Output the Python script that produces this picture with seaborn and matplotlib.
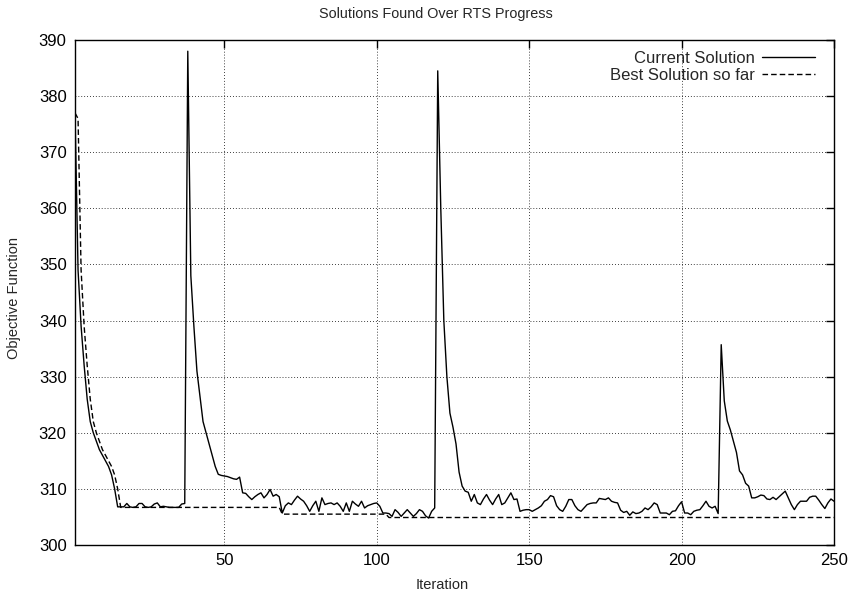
import numpy as np
import pandas as pd
import seaborn as sns
import matplotlib
matplotlib.use('Agg')
import matplotlib.pyplot as plt

# ------------------- Data -------------------
current_solution = [
    377.0, 349.0, 339.0, 332.0, 326.0, 322.0, 320.0, 318.5, 317.0, 316.0,
    315.0, 314.0, 312.5, 310.0, 306.8, 306.8, 306.8, 307.4, 306.8, 306.7,
    306.8, 307.4, 307.4, 306.8, 306.7, 306.8, 307.3, 307.5, 306.8, 306.9,
    306.8, 306.7, 306.7, 306.7, 306.7, 307.3, 307.4, 388.0, 348.0, 339.0,
    331.0, 326.5, 322.0, 320.0, 318.0, 316.0, 314.0, 312.6, 312.4, 312.3,
    312.2, 312.0, 311.8, 311.7, 312.1, 309.3, 309.2, 308.6, 308.1, 308.6,
    309.0, 309.3, 308.4, 309.0, 309.9, 308.7, 309.0, 308.6, 305.7, 307.0,
    307.5, 307.2, 308.0, 308.7, 308.2, 307.8, 307.0, 306.0, 307.0, 307.8,
    306.0, 308.4, 307.2, 307.4, 307.5, 307.2, 307.5, 306.9, 306.0, 307.5,
    306.0, 307.8, 307.3, 306.9, 307.8, 306.6, 307.0, 307.2, 307.4, 307.5,
    306.9, 305.7, 305.7, 305.6, 305.1, 306.3, 305.8, 305.1, 305.7, 306.3,
    305.7, 305.1, 305.6, 306.3, 306.0, 305.2, 304.8, 306.0, 306.6, 384.5,
    360.0, 340.0, 330.0, 323.5, 321.0, 318.0, 313.0, 310.5, 309.6, 309.4,
    307.8, 309.0, 307.5, 307.2, 308.2, 309.0, 308.0, 307.2, 308.2, 309.0,
    307.2, 307.5, 308.4, 309.3, 308.1, 308.2, 306.0, 306.2, 306.3, 306.3,
    306.0, 306.3, 306.6, 307.0, 307.8, 308.1, 308.8, 308.6, 307.0, 306.3,
    306.0, 306.9, 308.1, 308.1, 307.0, 306.3, 306.0, 306.6, 307.2, 307.4,
    307.5, 307.5, 308.3, 308.2, 308.1, 308.4, 307.8, 307.6, 307.5, 306.2,
    305.8, 306.0, 305.3, 305.9, 305.6, 305.7, 306.0, 306.6, 306.3, 306.8,
    307.5, 307.2, 305.7, 305.7, 305.7, 305.4, 306.0, 306.1, 307.0, 307.7,
    305.7, 305.7, 305.4, 306.0, 306.2, 306.3, 307.0, 307.8, 306.9, 306.6,
    306.9, 305.6, 335.7, 325.7, 322.1, 320.5, 318.5, 316.5, 313.2, 312.5,
    311.0, 310.5, 308.4, 308.4, 308.6, 308.9, 308.8, 308.2, 308.1, 308.5,
    308.1, 308.6, 309.1, 309.6, 308.4, 307.2, 306.3, 307.2, 307.8, 307.8,
    307.8, 308.5, 308.7, 308.7, 308.0, 307.2, 306.5, 307.5, 308.2, 307.8,
]
iterations = list(range(1, len(current_solution) + 1))

best_iterations = [1, 2, 3, 4, 5, 6, 7, 8, 9, 10, 11, 12, 13, 14, 15, 16,
                   68, 69, 103, 104, 250]
best_solution = [377.0, 376.0, 349.0, 339.0, 332.0, 326.0, 322.0, 320.0,
                 318.5, 317.0, 316.0, 315.0, 314.0, 312.5, 310.0, 306.7,
                 306.7, 305.5, 305.5, 304.9, 304.9]

df_cur = pd.DataFrame({'Iteration': iterations, 'Value': current_solution})
df_best = pd.DataFrame({'Iteration': best_iterations, 'Value': best_solution})

# ------------------- Style -------------------
sns.set_style('white')
plt.rcParams['font.family'] = ['Liberation Sans', 'DejaVu Sans']
plt.rcParams['font.size'] = 10

fig = plt.figure(figsize=(8.5, 5.96), dpi=100)
ax = fig.add_axes([75 / 850, 1 - 545 / 596, (834 - 75) / 850, (545 - 40) / 596])

# ------------------- Plot -------------------
sns.lineplot(data=df_cur, x='Iteration', y='Value', ax=ax, color='black',
             linewidth=1.0, label='Current Solution')
sns.lineplot(data=df_best, x='Iteration', y='Value', ax=ax, color='black',
             linewidth=1.0, dashes=False, label='Best Solution so far')
ax.lines[1].set_dashes((4, 2.2))

ax.set_xlim(1, 250)
ax.set_ylim(300, 390)
ax.set_xticks([50, 100, 150, 200, 250])
ax.set_yticks(range(300, 391, 10))
ax.grid(True, linestyle=(0, (1, 2.5)), color='black', linewidth=0.6)
ax.tick_params(direction='in', length=6, width=1, top=True, right=True,
               labelsize=12, pad=6, colors='black')
for s in ax.spines.values():
    s.set_linewidth(1.0)
    s.set_color('black')

ax.set_title('Solutions Found Over RTS Progress', fontsize=10.4, pad=16,
             x=0.476)
ax.set_xlabel('Iteration', fontsize=10.5)
ax.set_ylabel('Objective Function', fontsize=10.5)
ax.xaxis.set_label_coords(0.484, -0.065)
ax.yaxis.set_label_coords(-0.071, 0.49)

leg = ax.legend(loc='upper right', bbox_to_anchor=(0.975, 0.979),
                frameon=False, markerfirst=False, borderpad=0,
                borderaxespad=0, handlelength=3.2, handletextpad=0.4,
                labelspacing=0.15, fontsize=12)
for h in leg.legend_handles:
    h.set_linewidth(1.0)
leg.legend_handles[1].set_dashes((4, 2.2))

fig.savefig('out.png', dpi=100)
